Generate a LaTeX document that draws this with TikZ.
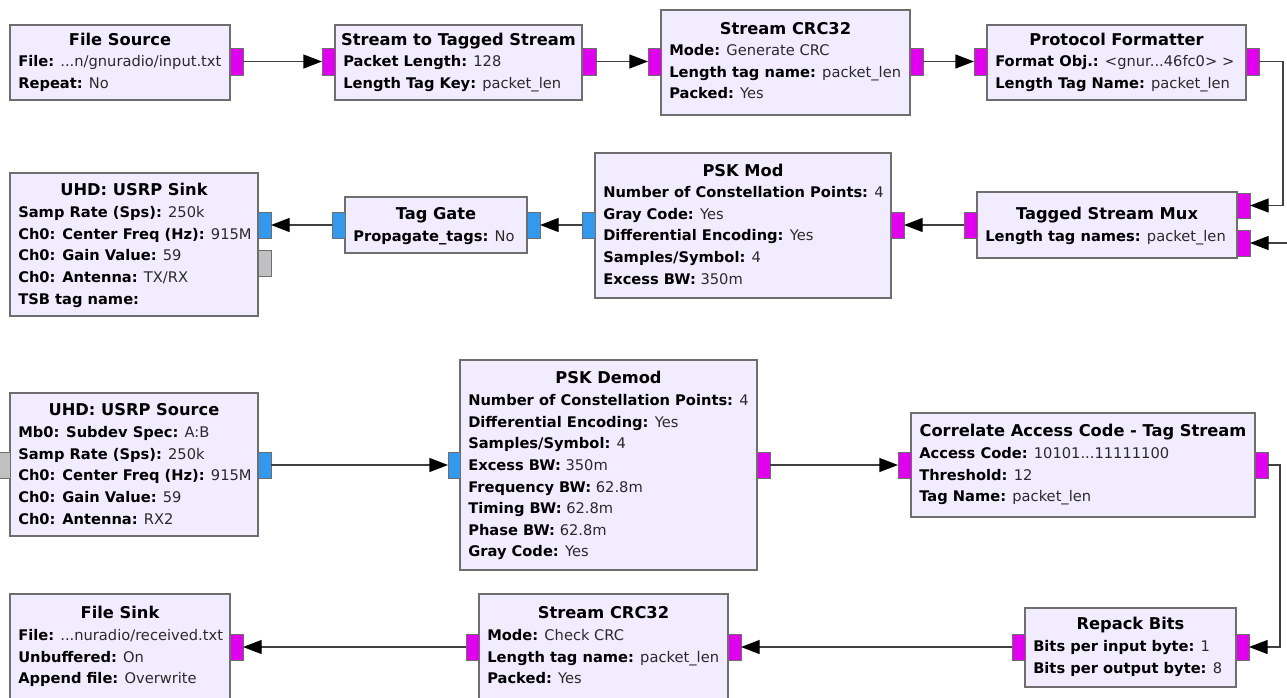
\documentclass[tikz,border=0pt]{standalone}
\usepackage{fontspec}
\setmainfont{DejaVu Sans}
\usetikzlibrary{arrows.meta,fit}
\definecolor{blkfill}{HTML}{F1ECFF}
\definecolor{blkdraw}{HTML}{6E6E6E}
\definecolor{bytep}{HTML}{E000EE}
\definecolor{cplxp}{HTML}{3399EE}
\definecolor{gryp}{HTML}{C0C0C0}
\definecolor{valtxt}{HTML}{2A2A2A}
\newcommand\prm[2]{\textbf{#1} {\color{valtxt}#2}}
\newcommand\mkblock[9]{%
  \node[blk, fit={(#2,#3) (#4,#5)}] (#1) {};
  \node[ttl] (#1-t) at ({(#2+#4)/2}, {#7+6.3}) {#6};
  \foreach \lineT [count=\i] in {#9} {\node[ptxt] (#1-p\i) at ({#2+8}, {#8+5.6+(\i-1)*21.6}) {\lineT};}
}
\begin{document}
\begin{tikzpicture}[x=0.75pt,y=-0.75pt,
  blk/.style={draw=blkdraw, fill=blkfill, line width=0.9pt, inner sep=0pt, outer sep=0pt},
  bport/.style={draw=blkdraw, fill=bytep, line width=0.6pt, inner sep=0pt, outer sep=0pt},
  cport/.style={draw=blkdraw, fill=cplxp, line width=0.6pt, inner sep=0pt, outer sep=0pt},
  gport/.style={draw=blkdraw, fill=gryp, line width=0.6pt, inner sep=0pt, outer sep=0pt},
  ttl/.style={font=\fontsize{12.2}{14}\selectfont\bfseries, anchor=base, inner sep=0pt},
  ptxt/.style={font=\fontsize{11}{13}\selectfont, anchor=base west, inner sep=0pt},
  conn/.style={draw=black!75, line width=1pt, -{Triangle[length=14pt,width=10.5pt,color=black]}}]
\useasboundingbox (0,0) rectangle (1287,697);
\clip (0,0) rectangle (1287,697);
\fill[white] (0,0) rectangle (1287,697);

% ---- top row
\mkblock{fsrc}{10}{25}{230}{100}{File Source}{39}{61}{{\prm{File:}{...n/gnuradio/input.txt}},{\prm{Repeat:}{No}}}
\node[bport, fit={(230,48) (243,75)}] (fsrc-o) {};

\mkblock{s2ts}{335}{25}{582}{100}{Stream to Tagged Stream}{39}{61}{{\prm{Packet Length:}{128}},{\prm{Length Tag Key:}{packet\_len}}}
\node[bport, fit={(322,48) (335,75)}] (s2ts-i) {};
\node[bport, fit={(582,48) (596,75)}] (s2ts-o) {};

\mkblock{crcg}{661}{10}{910}{115}{Stream CRC32}{28}{50}{{\prm{Mode:}{Generate CRC}},{\prm{Length tag name:}{packet\_len}},{\prm{Packed:}{Yes}}}
\node[bport, fit={(648,48) (661,75)}] (crcg-i) {};
\node[bport, fit={(910,48) (923,75)}] (crcg-o) {};

\mkblock{pfmt}{987}{25}{1246}{100}{Protocol Formatter}{39}{61}{{\prm{Format Obj.:}{<gnur...46fc0> >}},{\prm{Length Tag Name:}{packet\_len}}}
\node[bport, fit={(974,48) (987,75)}] (pfmt-i) {};
\node[bport, fit={(1246,48) (1259,75)}] (pfmt-o) {};

% ---- second row
\mkblock{tsmux}{977}{192}{1237}{258}{Tagged Stream Mux}{213}{236}{{\prm{Length tag names:}{packet\_len}}}
\node[bport, fit={(1237,193) (1250,218)}] (tsmux-i1) {};
\node[bport, fit={(1237,230) (1250,256)}] (tsmux-i2) {};
\node[bport, fit={(964,212) (977,238)}] (tsmux-o) {};

\mkblock{pskmod}{595}{153}{891}{298}{PSK Mod}{170}{192}{{\prm{Number of Constellation Points:}{4}},{\prm{Gray Code:}{Yes}},{\prm{Differential Encoding:}{Yes}},{\prm{Samples/Symbol:}{4}},{\prm{Excess BW:}{350m}}}
\node[bport, fit={(891,212) (904,238)}] (pskmod-i) {};
\node[cport, fit={(582,212) (595,238)}] (pskmod-o) {};

\mkblock{tgate}{345}{197}{527}{253}{Tag Gate}{213}{236}{{\prm{Propagate\_tags:}{No}}}
\node[cport, fit={(527,212) (540,238)}] (tgate-i) {};
\node[cport, fit={(332,212) (345,238)}] (tgate-o) {};

\mkblock{usnk}{10}{173}{258}{316}{UHD: USRP Sink}{189}{212}{{\prm{Samp Rate (Sps):}{250k}},{\prm{Ch0: Center Freq (Hz):}{915M}},{\prm{Ch0: Gain Value:}{59}},{\prm{Ch0: Antenna:}{TX/RX}},{\prm{TSB tag name:}{}}}
\node[cport, fit={(258,212) (271,238)}] (usnk-i) {};
\node[gport, fit={(258,250) (271,276)}] (usnk-g) {};

% ---- third row
\mkblock{usrc}{10}{393}{258}{536}{UHD: USRP Source}{409}{432}{{\prm{Mb0: Subdev Spec:}{A:B}},{\prm{Samp Rate (Sps):}{250k}},{\prm{Ch0: Center Freq (Hz):}{915M}},{\prm{Ch0: Gain Value:}{59}},{\prm{Ch0: Antenna:}{RX2}}}
\node[gport, fit={(-3,452) (10,478)}] (usrc-g) {};
\node[cport, fit={(258,452) (271,478)}] (usrc-o) {};

\mkblock{pskd}{460}{360}{757}{570}{PSK Demod}{377}{400}{{\prm{Number of Constellation Points:}{4}},{\prm{Differential Encoding:}{Yes}},{\prm{Samples/Symbol:}{4}},{\prm{Excess BW:}{350m}},{\prm{Frequency BW:}{62.8m}},{\prm{Timing BW:}{62.8m}},{\prm{Phase BW:}{62.8m}},{\prm{Gray Code:}{Yes}}}
\node[cport, fit={(448,452) (460,478)}] (pskd-i) {};
\node[bport, fit={(757,452) (770,478)}] (pskd-o) {};

\mkblock{cac}{911}{413}{1255}{517}{Correlate Access Code - Tag Stream}{430}{453}{{\prm{Access Code:}{10101...11111100}},{\prm{Threshold:}{12}},{\prm{Tag Name:}{packet\_len}}}
\node[bport, fit={(898,452) (911,478)}] (cac-i) {};
\node[bport, fit={(1255,452) (1268,478)}] (cac-o) {};

% ---- bottom row
\mkblock{rpk}{1025}{608}{1236}{687}{Repack Bits}{623}{646}{{\prm{Bits per input byte:}{1}},{\prm{Bits per output byte:}{8}}}
\node[bport, fit={(1236,634) (1249,660)}] (rpk-i) {};
\node[bport, fit={(1012,634) (1025,660)}] (rpk-o) {};

\mkblock{crcc}{479}{594}{728}{712}{Stream CRC32}{612}{635}{{\prm{Mode:}{Check CRC}},{\prm{Length tag name:}{packet\_len}},{\prm{Packed:}{Yes}}}
\node[bport, fit={(728,634) (741,660)}] (crcc-i) {};
\node[bport, fit={(466,634) (479,660)}] (crcc-o) {};

\mkblock{fsnk}{10}{594}{230}{712}{File Sink}{612}{635}{{\prm{File:}{...nuradio/received.txt}},{\prm{Unbuffered:}{On}},{\prm{Append file:}{Overwrite}}}
\node[bport, fit={(230,634) (243,660)}] (fsnk-i) {};

% ---- connectors
\coordinate (bendA) at (1283,61.5);
\coordinate (muxsrc) at (1292,243);
\coordinate (bendB) at (1280,465);
\draw[conn] (fsrc-o.east) -- (s2ts-i.west);
\draw[conn] (s2ts-o.east) -- (crcg-i.west);
\draw[conn] (crcg-o.east) -- (pfmt-i.west);
\draw[conn] (pfmt-o.east) -- (bendA) |- (tsmux-i1.east);
\draw[conn] (muxsrc) -- (tsmux-i2.east);
\draw[conn] (tsmux-o.west) -- (pskmod-i.east);
\draw[conn] (pskmod-o.west) -- (tgate-i.east);
\draw[conn] (tgate-o.west) -- (usnk-i.east);
\draw[conn] (usrc-o.east) -- (pskd-i.west);
\draw[conn] (pskd-o.east) -- (cac-i.west);
\draw[conn] (cac-o.east) -- (bendB) |- (rpk-i.east);
\draw[conn] (rpk-o.west) -- (crcc-i.east);
\draw[conn] (crcc-o.west) -- (fsnk-i.east);
\end{tikzpicture}
\end{document}
